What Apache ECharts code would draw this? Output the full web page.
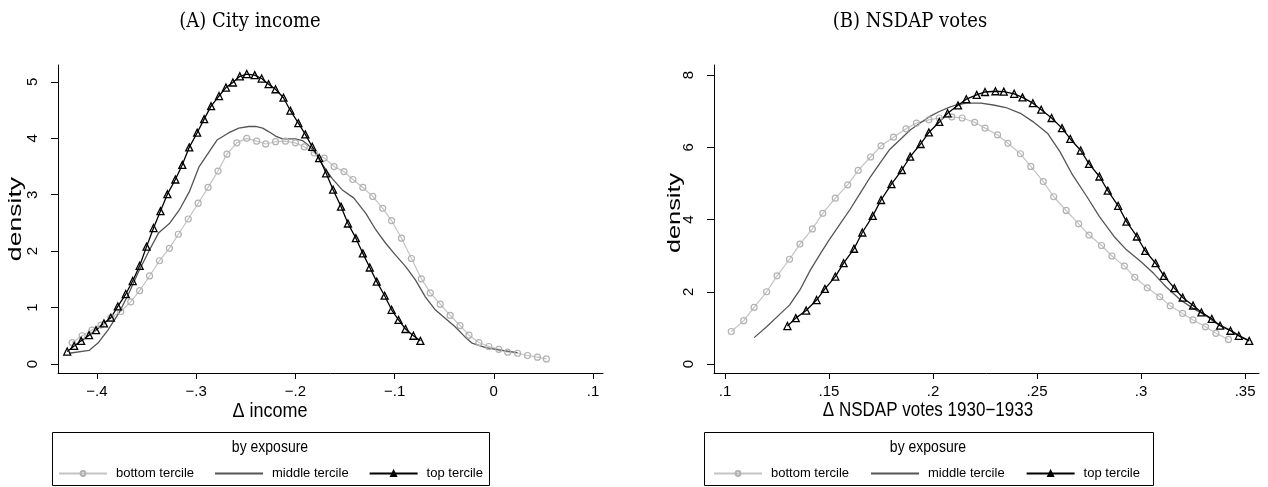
<!DOCTYPE html>
<html>
<head>
<meta charset="utf-8">
<script src="https://cdn.jsdelivr.net/npm/echarts@6/dist/echarts.min.js"></script>
<style>
html,body{margin:0;padding:0;background:#fff;}
#chart{width:1268px;height:487px;}
</style>
</head>
<body>
<div id="chart"></div>
<script>
// ---------- DATA ----------
const seriesNames = ['bottom tercile', 'middle tercile', 'top tercile'];

// Panel A: City income (x = Δ income, y = density)
const incBottomX = [-0.425,-0.415,-0.405,-0.396,-0.386,-0.376,-0.366,-0.357,-0.347,-0.337,-0.327,-0.318,-0.308,-0.298,-0.288,-0.278,-0.269,-0.259,-0.249,-0.239,-0.230,-0.220,-0.210,-0.200,-0.191,-0.181,-0.171,-0.161,-0.151,-0.142,-0.132,-0.122,-0.112,-0.103,-0.093,-0.083,-0.073,-0.064,-0.054,-0.044,-0.034,-0.025,-0.015,-0.005,0.005,0.014,0.024,0.034,0.044,0.053];
const incBottomY = [0.38,0.50,0.60,0.69,0.82,0.93,1.10,1.30,1.56,1.83,2.05,2.30,2.57,2.85,3.13,3.42,3.72,3.92,4.00,3.95,3.90,3.94,3.95,3.92,3.85,3.74,3.65,3.50,3.41,3.27,3.13,2.97,2.76,2.54,2.23,1.87,1.51,1.26,1.06,0.86,0.68,0.51,0.38,0.31,0.26,0.21,0.19,0.15,0.12,0.09];

const incMiddleX = [-0.428,-0.408,-0.399,-0.389,-0.378,-0.368,-0.358,-0.348,-0.338,-0.327,-0.317,-0.307,-0.297,-0.287,-0.279,-0.267,-0.257,-0.247,-0.240,-0.233,-0.227,-0.220,-0.213,-0.207,-0.200,-0.193,-0.187,-0.180,-0.176,-0.169,-0.163,-0.153,-0.141,-0.129,-0.119,-0.109,-0.099,-0.089,-0.079,-0.069,-0.059,-0.049,-0.039,-0.029,-0.022,-0.008,0.005,0.024];
const incMiddleY = [0.19,0.24,0.37,0.60,0.90,1.25,1.64,1.99,2.32,2.49,2.73,3.05,3.50,3.76,3.97,4.10,4.18,4.21,4.21,4.18,4.12,4.04,3.99,3.99,3.99,3.96,3.88,3.75,3.62,3.44,3.29,3.09,2.94,2.67,2.38,2.14,1.93,1.73,1.49,1.19,0.96,0.81,0.66,0.48,0.37,0.29,0.25,0.20];

const incTopX = [-0.430,-0.423,-0.416,-0.408,-0.401,-0.393,-0.386,-0.379,-0.371,-0.364,-0.357,-0.350,-0.343,-0.336,-0.329,-0.321,-0.314,-0.307,-0.299,-0.292,-0.285,-0.277,-0.270,-0.263,-0.256,-0.249,-0.241,-0.234,-0.227,-0.220,-0.212,-0.205,-0.197,-0.190,-0.183,-0.176,-0.169,-0.162,-0.154,-0.147,-0.139,-0.132,-0.125,-0.118,-0.110,-0.103,-0.096,-0.089,-0.081,-0.074];
const incTopY = [0.22,0.32,0.41,0.51,0.60,0.72,0.82,1.02,1.24,1.47,1.74,2.08,2.41,2.71,3.01,3.27,3.53,3.84,4.10,4.34,4.57,4.75,4.90,4.99,5.10,5.14,5.12,5.06,4.96,4.87,4.72,4.49,4.27,4.07,3.85,3.65,3.38,3.09,2.79,2.49,2.23,1.96,1.71,1.46,1.21,0.96,0.78,0.62,0.50,0.41];

// Panel B: NSDAP votes (x = Δ NSDAP votes 1930–1933, y = density)
const votBottomX = [0.103,0.109,0.114,0.120,0.125,0.131,0.136,0.142,0.147,0.153,0.159,0.164,0.170,0.175,0.181,0.187,0.192,0.198,0.203,0.209,0.214,0.220,0.225,0.231,0.236,0.242,0.247,0.253,0.258,0.264,0.270,0.275,0.281,0.286,0.292,0.297,0.303,0.309,0.314,0.320,0.325,0.331,0.336,0.342];
const votBottomY = [0.90,1.20,1.57,2.00,2.44,2.90,3.32,3.74,4.17,4.59,4.96,5.36,5.73,6.04,6.28,6.51,6.67,6.76,6.81,6.84,6.81,6.69,6.53,6.34,6.11,5.82,5.47,5.05,4.63,4.25,3.88,3.57,3.28,2.99,2.71,2.40,2.11,1.86,1.61,1.40,1.22,1.03,0.85,0.68];

const votMiddleX = [0.114,0.120,0.126,0.131,0.136,0.141,0.146,0.150,0.155,0.160,0.165,0.170,0.175,0.179,0.184,0.189,0.194,0.199,0.203,0.208,0.211,0.216,0.223,0.229,0.235,0.242,0.248,0.255,0.261,0.267,0.274,0.280,0.287,0.293,0.300,0.306,0.312,0.319,0.325,0.332,0.336,0.343,0.348,0.352];
const votMiddleY = [0.73,1.03,1.36,1.63,2.05,2.60,3.07,3.43,3.85,4.27,4.73,5.19,5.60,5.93,6.20,6.48,6.68,6.87,6.99,7.11,7.17,7.22,7.22,7.17,7.10,6.94,6.71,6.39,5.88,5.24,4.63,4.08,3.53,3.16,2.83,2.51,2.14,1.77,1.54,1.31,1.13,0.94,0.76,0.65];

const votTopX = [0.130,0.134,0.139,0.144,0.148,0.153,0.157,0.162,0.166,0.171,0.175,0.180,0.185,0.189,0.194,0.198,0.203,0.207,0.212,0.216,0.221,0.225,0.230,0.234,0.239,0.243,0.248,0.252,0.257,0.262,0.266,0.271,0.275,0.280,0.284,0.289,0.293,0.298,0.302,0.307,0.311,0.316,0.320,0.325,0.329,0.334,0.338,0.343,0.347,0.352];
const votTopY = [1.05,1.27,1.48,1.77,2.08,2.42,2.79,3.19,3.64,4.10,4.54,4.98,5.37,5.74,6.09,6.41,6.70,6.94,7.16,7.33,7.45,7.53,7.55,7.54,7.48,7.38,7.22,7.04,6.81,6.53,6.23,5.91,5.54,5.19,4.80,4.38,3.94,3.53,3.13,2.79,2.44,2.10,1.84,1.62,1.43,1.25,1.06,0.92,0.78,0.64];

// Tick labels
const incXTicks = [-0.4,-0.3,-0.2,-0.1,0,0.1];
const incYTicks = [0,1,2,3,4,5];
const votXTicks = [0.1,0.15,0.2,0.25,0.3,0.35];
const votYTicks = [0,2,4,6,8];

// ---------- CHART ----------
const zip = (xs, ys) => xs.map((x, i) => [x, ys[i]]);
const FONT = '"Liberation Sans", Arial, Helvetica, sans-serif';
const SERIF = '"DejaVu Serif", serif';
const fmt = v => {
  const r = Math.round(v * 10000) / 10000;
  if (r === 0) return '0';
  let s = String(Math.abs(r)).replace(/^0\./, '.');
  return (r < 0 ? '\u2212' : '') + s;
};

function xAxisCfg(gi, min, max, ticks) {
  return {
    type: 'value', gridIndex: gi, min: min, max: max,
    splitLine: {show: false},
    axisLine: {show: true, onZero: false, lineStyle: {color: '#000', width: 1}},
    axisTick: {show: true, length: 6, lineStyle: {color: '#000', width: 1}, customValues: ticks},
    axisLabel: {show: true, customValues: ticks, formatter: fmt, margin: 11,
      color: '#000', fontFamily: FONT, fontSize: 15}
  };
}
function yAxisCfg(gi, min, max, ticks) {
  return {
    type: 'value', gridIndex: gi, min: min, max: max,
    splitLine: {show: false},
    axisLine: {show: true, onZero: false, lineStyle: {color: '#000', width: 1}},
    axisTick: {show: true, length: 7, lineStyle: {color: '#000', width: 1}, customValues: ticks},
    axisLabel: {show: true, customValues: ticks, formatter: fmt, rotate: 90, margin: 18,
      color: '#000', fontFamily: FONT, fontSize: 15}
  };
}

const styles = {
  'bottom tercile': {
    symbol: 'circle', symbolSize: 6,
    lineStyle: {color: '#c4c4c4', width: 1.2},
    itemStyle: {color: 'rgba(255,255,255,0)', borderColor: '#b2b2b2', borderWidth: 1.2}
  },
  'middle tercile': {
    symbol: 'none',
    lineStyle: {color: '#555555', width: 1.3},
    itemStyle: {color: '#555555'}
  },
  'top tercile': {
    symbol: 'triangle', symbolSize: 7,
    lineStyle: {color: '#000', width: 1.3},
    itemStyle: {color: 'rgba(255,255,255,0)', borderColor: '#000', borderWidth: 1.3}
  }
};
function mkSeries(name, gi, data) {
  return Object.assign({
    type: 'line', name: name, xAxisIndex: gi, yAxisIndex: gi, data: data,
    showAllSymbol: true, smooth: false, animation: false,
    emphasis: {disabled: true}
  }, JSON.parse(JSON.stringify(styles[name])));
}

function legendCfg(left, gap) {
  return {
    left: left, top: 467, orient: 'horizontal', padding: 0,
    itemWidth: 48, itemHeight: 6, itemGap: gap,
    data: [
      {name: 'bottom tercile'},
      {name: 'middle tercile', itemStyle: {opacity: 0}},
      {name: 'top tercile', itemStyle: {color: '#000', borderColor: '#000'}}
    ],
    selectedMode: false,
    textStyle: {color: '#000', fontFamily: FONT, fontSize: 13, padding: [0, 0, 0, 4]}
  };
}

function txt(x, y, text, font, size, extra) {
  return Object.assign({
    type: 'text', x: x, y: y,
    style: {text: text, fill: '#000', font: size + 'px ' + font,
      textAlign: 'center', textVerticalAlign: 'middle'}
  }, extra || {});
}

const chart = echarts.init(document.getElementById('chart'), null, {renderer: 'canvas'});
chart.setOption({
  animation: false,
  backgroundColor: '#fff',
  grid: [
    {left: 58, top: 65, width: 545, height: 308},
    {left: 714, top: 65, width: 545, height: 308}
  ],
  xAxis: [
    xAxisCfg(0, -0.4393, 0.1101, incXTicks),
    xAxisCfg(1, 0.0947, 0.3567, votXTicks)
  ],
  yAxis: [
    yAxisCfg(0, -0.16, 5.30, incYTicks),
    yAxisCfg(1, -0.249, 8.277, votYTicks)
  ],
  legend: [legendCfg(58, 20), legendCfg(713, 21)],
  series: [
    mkSeries('bottom tercile', 0, zip(incBottomX, incBottomY)),
    mkSeries('middle tercile', 0, zip(incMiddleX, incMiddleY)),
    mkSeries('top tercile', 0, zip(incTopX, incTopY)),
    mkSeries('bottom tercile', 1, zip(votBottomX, votBottomY)),
    mkSeries('middle tercile', 1, zip(votMiddleX, votMiddleY)),
    mkSeries('top tercile', 1, zip(votTopX, votTopY))
  ],
  graphic: [
    txt(250, 22, '(A) City income', SERIF, 18, {scaleY: 1.1}),
    txt(910, 22, '(B) NSDAP votes', SERIF, 18, {scaleY: 1.1}),
    txt(16, 219, 'density', FONT, 19, {rotation: Math.PI / 2, scaleX: 1.4}),
    txt(675, 213, 'density', FONT, 19, {rotation: Math.PI / 2, scaleX: 1.33}),
    txt(270, 411, '\u0394 income', FONT, 18, {scaleY: 1.15}),
    txt(928, 411, '\u0394 NSDAP votes 1930\u22121933', FONT, 17, {scaleY: 1.15}),
    {type: 'rect', shape: {x: 52.5, y: 432.5, width: 437, height: 53},
      style: {fill: 'none', stroke: '#000', lineWidth: 1}},
    {type: 'rect', shape: {x: 704.5, y: 432.5, width: 449, height: 53},
      style: {fill: 'none', stroke: '#000', lineWidth: 1}},
    txt(270, 448, 'by exposure', FONT, 14, {scaleY: 1.15}),
    txt(928, 448, 'by exposure', FONT, 14, {scaleY: 1.15})
  ]
});
</script>
</body>
</html>
